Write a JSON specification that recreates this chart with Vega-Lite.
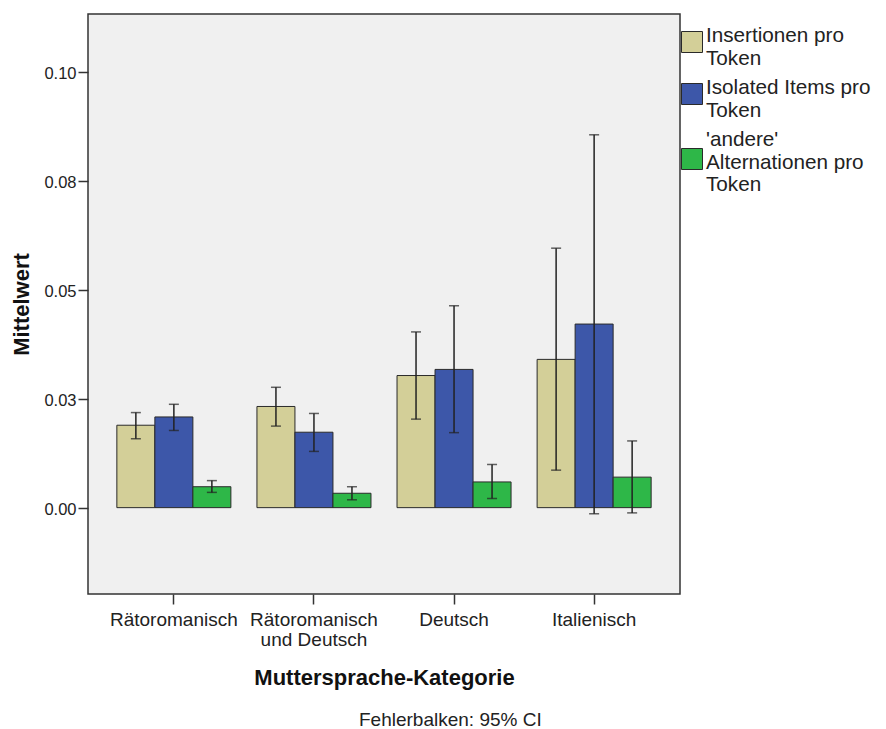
{
  "$schema": "https://vega.github.io/schema/vega-lite/v6.json",
  "width": 592,
  "height": 580,
  "autosize": {"type": "none"},
  "padding": {"left": 88, "top": 14, "right": 206, "bottom": 135},
  "background": "white",
  "config": {
    "font": "Liberation Sans",
    "view": {"fill": "#F0F0F0", "stroke": "#333333", "strokeWidth": 1.5}
  },
  "title": {
    "text": "Fehlerbalken: 95% CI",
    "orient": "bottom",
    "anchor": "start",
    "frame": "group",
    "dx": 271,
    "offset": 23,
    "fontSize": 19,
    "fontWeight": "normal",
    "color": "#222222",
    "font": "Liberation Sans"
  },
  "data": {
    "values": [
      {"cat": "Rätoromanisch", "series": "Insertionen pro Token", "mean": 0.0189, "lo": 0.0158, "hi": 0.0218},
      {"cat": "Rätoromanisch", "series": "Isolated Items pro Token", "mean": 0.0208, "lo": 0.0177, "hi": 0.0237},
      {"cat": "Rätoromanisch", "series": "'andere' Alternationen pro Token", "mean": 0.0048, "lo": 0.0035, "hi": 0.0062},
      {"cat": "Rätoromanisch und Deutsch", "series": "Insertionen pro Token", "mean": 0.0232, "lo": 0.0187, "hi": 0.0276},
      {"cat": "Rätoromanisch und Deutsch", "series": "Isolated Items pro Token", "mean": 0.0173, "lo": 0.0129, "hi": 0.0216},
      {"cat": "Rätoromanisch und Deutsch", "series": "'andere' Alternationen pro Token", "mean": 0.0033, "lo": 0.0018, "hi": 0.0048},
      {"cat": "Deutsch", "series": "Insertionen pro Token", "mean": 0.0303, "lo": 0.0203, "hi": 0.0403},
      {"cat": "Deutsch", "series": "Isolated Items pro Token", "mean": 0.0317, "lo": 0.0172, "hi": 0.0463},
      {"cat": "Deutsch", "series": "'andere' Alternationen pro Token", "mean": 0.0059, "lo": 0.0021, "hi": 0.0099},
      {"cat": "Italienisch", "series": "Insertionen pro Token", "mean": 0.0340, "lo": 0.0086, "hi": 0.0595},
      {"cat": "Italienisch", "series": "Isolated Items pro Token", "mean": 0.0421, "lo": -0.0014, "hi": 0.0855},
      {"cat": "Italienisch", "series": "'andere' Alternationen pro Token", "mean": 0.0070, "lo": -0.0012, "hi": 0.0153}
    ]
  },
  "encoding": {
    "x": {
      "field": "cat",
      "type": "nominal",
      "sort": ["Rätoromanisch", "Rätoromanisch und Deutsch", "Deutsch", "Italienisch"],
      "scale": {"paddingInner": 0.186, "paddingOuter": 0.206},
      "title": "Muttersprache-Kategorie",
      "axis": {
        "labelAngle": 0,
        "domain": false,
        "grid": false,
        "ticks": true,
        "tickSize": 10,
        "tickColor": "#333333",
        "tickWidth": 1.5,
        "labelPadding": 6,
        "labelFontSize": 19,
        "labelLineHeight": 20,
        "labelColor": "#222222",
        "labelFont": "Liberation Sans",
        "labelLimit": 300,
        "labelExpr": "datum.label == 'Rätoromanisch und Deutsch' ? ['Rätoromanisch', 'und Deutsch'] : datum.label",
        "titleFont": "Liberation Sans",
        "titleFontSize": 22,
        "titleFontWeight": "bold",
        "titleColor": "#111111",
        "titleY": 90,
        "titleBaseline": "alphabetic"
      }
    },
    "xOffset": {
      "field": "series",
      "type": "nominal",
      "sort": ["Insertionen pro Token", "Isolated Items pro Token", "'andere' Alternationen pro Token"],
      "scale": {"paddingInner": 0, "paddingOuter": 0}
    }
  },
  "layer": [
    {
      "mark": {"type": "bar", "stroke": "#2a2a2a", "strokeWidth": 1},
      "encoding": {
        "y": {
          "field": "mean",
          "type": "quantitative",
          "title": "Mittelwert",
          "scale": {"domain": [-0.0198, 0.1132], "nice": false, "zero": false},
          "axis": {
            "values": [0, 0.025, 0.05, 0.075, 0.1],
            "labelExpr": "format(datum.value + 0.000001, '.2f')",
            "domain": false,
            "grid": false,
            "tickSize": 10,
            "tickColor": "#333333",
            "tickWidth": 1.5,
            "labelPadding": 2,
            "labelOffset": 2,
            "labelFontSize": 16.5,
            "labelColor": "#222222",
            "labelFont": "Liberation Sans",
            "titleFont": "Liberation Sans",
            "titleFontSize": 22,
            "titleFontWeight": "bold",
            "titleColor": "#111111",
            "titleX": -60,
            "titleY": 290,
            "titleAngle": 270,
            "titleAlign": "center",
            "titleBaseline": "alphabetic"
          }
        },
        "color": {
          "field": "series",
          "type": "nominal",
          "sort": ["Insertionen pro Token", "Isolated Items pro Token", "'andere' Alternationen pro Token"],
          "scale": {
            "domain": ["Insertionen pro Token", "Isolated Items pro Token", "'andere' Alternationen pro Token"],
            "range": ["#D3CF98", "#3D57A9", "#2EB748"]
          },
          "legend": {
            "orient": "none",
            "legendX": 593,
            "legendY": 17,
            "title": null,
            "padding": 0,
            "symbolType": "square",
            "symbolSize": 441,
            "symbolStrokeColor": "#2a2a2a",
            "symbolStrokeWidth": 1,
            "symbolOpacity": 1,
            "labelFont": "Liberation Sans",
            "labelFontSize": 20.7,
            "labelLineHeight": 22.3,
            "labelColor": "#222222",
            "labelLimit": 300,
            "labelOffset": 3,
            "rowPadding": 8,
            "labelExpr": "datum.label == 'Insertionen pro Token' ? ['Insertionen pro', 'Token'] : datum.label == 'Isolated Items pro Token' ? ['Isolated Items pro', 'Token'] : [\"'andere'\", 'Alternationen pro', 'Token']",
            "encode": {
              "labels": {
                "update": {
                  "dy": {"signal": "indexof(datum.value, 'andere') >= 0 ? -19 : -6"}
                }
              }
            }
          }
        }
      }
    },
    {
      "mark": {"type": "rule", "color": "#222222", "strokeWidth": 1.5},
      "encoding": {
        "y": {"field": "lo", "type": "quantitative", "title": "Mittelwert"},
        "y2": {"field": "hi"}
      }
    },
    {
      "mark": {"type": "tick", "orient": "horizontal", "color": "#222222", "thickness": 1.5, "size": 10},
      "encoding": {
        "y": {"field": "lo", "type": "quantitative", "title": "Mittelwert"}
      }
    },
    {
      "mark": {"type": "tick", "orient": "horizontal", "color": "#222222", "thickness": 1.5, "size": 10},
      "encoding": {
        "y": {"field": "hi", "type": "quantitative", "title": "Mittelwert"}
      }
    }
  ]
}
